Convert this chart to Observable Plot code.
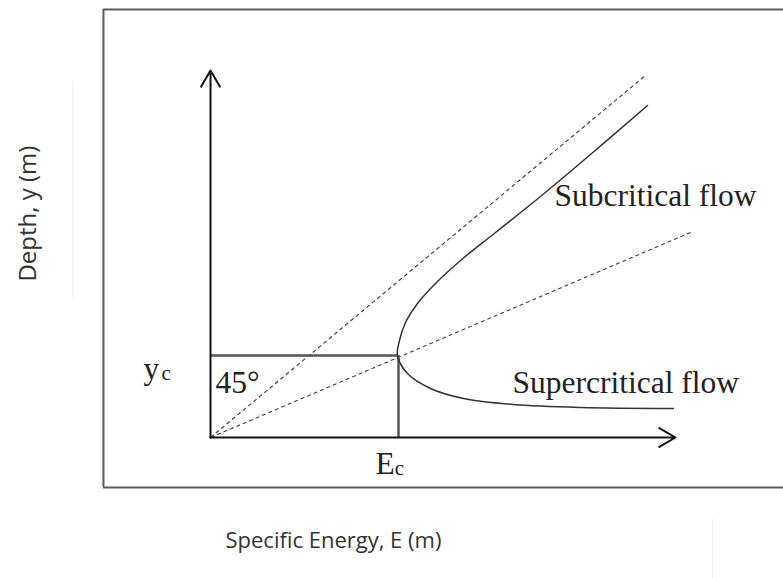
<!DOCTYPE html>
<html><head><meta charset="utf-8">
<script src="https://cdn.jsdelivr.net/npm/d3@7"></script>
<script src="https://cdn.jsdelivr.net/npm/@observablehq/plot@0.6"></script>
<style>html,body{margin:0;padding:0;background:#fff;overflow:hidden}</style>
</head><body><div id="chart"></div>
<script>
// ---- data (E and y in units where yc = 1, Ec = 1.5) ----
const upperE = [1.492, 1.508, 1.556, 1.652, 1.795, 1.995, 2.274, 2.633, 3.032, 3.487];
const upperY = [1.000, 1.183, 1.402, 1.634, 1.878, 2.159, 2.500, 2.939, 3.451, 4.049];
const lowerE = [1.492, 1.572, 1.755, 2.019, 2.418, 2.952, 3.694];
const lowerY = [1.000, 0.780, 0.598, 0.476, 0.402, 0.366, 0.354];
const Ec = 1.5, yc = 1.0;
const refLineEndE = [3.471, 3.83];
const refLineEndY = [4.415, 2.5];
const axisEndE = 3.71, axisEndY = 4.476;
const frameE = [-0.854, 4.7];
const frameY = [-0.61, 5.22];
const labelTexts = ["Subcritical flow", "Supercritical flow", "45°", "y", "E"];
const labelE = [2.745, 2.41, 0.04, -0.535, 1.317];
const labelY = [2.951, 0.671, 0.671, 0.841, -0.317];
const subTexts = ["c", "c"];
const subE = [-0.39, 1.47];
const subY = [0.78, -0.378];
const axisTitles = ["Depth, y (m)", "Specific Energy, E (m)"];
const axisTitleE = [-1.452, 0.981];
const axisTitleY = [2.73, -1.256];

// ---- build tables ----
const curve = [];
for (let i = lowerE.length - 1; i >= 1; i--) curve.push({E: lowerE[i], y: lowerY[i]});
for (let i = 0; i < upperE.length; i++) curve.push({E: upperE[i], y: upperY[i]});
const dashed = refLineEndE.map((e, i) => ({x1: 0, y1: 0, x2: e, y2: refLineEndY[i]}));
const labels = labelTexts.map((t, i) => ({t, E: labelE[i], y: labelY[i]}));
const subs = subTexts.map((t, i) => ({t, E: subE[i], y: subY[i]}));
const titles = axisTitles.map((t, i) => ({t, E: axisTitleE[i], y: axisTitleY[i]}));

const chart = Plot.plot({
  width: 783, height: 578, margin: 0,
  x: {domain: [-1.6756, 4.572], axis: null},
  y: {domain: [-1.7195, 5.329], axis: null},
  style: {background: "white", overflow: "hidden"},
  marks: [
    // faint scan artifacts
    Plot.ruleX([-1.1], {y1: 1.68, y2: 4.35, stroke: "#f0f0f0", strokeWidth: 1}),
    Plot.ruleX([4.005], {y1: -1.0, y2: -1.72, stroke: "#f0f0f0", strokeWidth: 1}),
    // frame
    Plot.ruleY([frameY[1], frameY[0]], {x1: frameE[0], x2: frameE[1], stroke: "#5a5a5a", strokeWidth: 2}),
    Plot.ruleX([frameE[0]], {y1: frameY[0], y2: frameY[1], stroke: "#5a5a5a", strokeWidth: 2}),
    // dashed reference lines
    Plot.link(dashed, {x1: "x1", y1: "y1", x2: "x2", y2: "y2", stroke: "#444", strokeWidth: 1.2, strokeDasharray: "4,3"}),
    // critical depth / energy lines
    Plot.ruleY([yc], {x1: 0, x2: Ec, stroke: "#555", strokeWidth: 2.5}),
    Plot.ruleX([Ec], {y1: 0, y2: yc, stroke: "#555", strokeWidth: 2.5}),
    // axes with arrows
    Plot.arrow([{x1: 0, y1: 0, x2: 0, y2: axisEndY}], {x1: "x1", y1: "y1", x2: "x2", y2: "y2", stroke: "#111", strokeWidth: 2, headLength: 14}),
    Plot.arrow([{x1: 0, y1: 0, x2: axisEndE, y2: 0}], {x1: "x1", y1: "y1", x2: "x2", y2: "y2", stroke: "#111", strokeWidth: 2, headLength: 14}),
    // specific energy curve
    Plot.line(curve, {x: "E", y: "y", curve: "catmull-rom", stroke: "#333", strokeWidth: 1.5}),
    // labels
    Plot.text(labels, {x: "E", y: "y", text: "t", textAnchor: "start", fontFamily: "Liberation Serif", fontSize: 31.5, fill: "#222"}),
    Plot.text(subs, {x: "E", y: "y", text: "t", textAnchor: "start", fontFamily: "Liberation Serif", fontSize: 21, fill: "#222"}),
    Plot.text(titles.slice(0, 1), {x: "E", y: "y", text: "t", rotate: -90, fontFamily: "Open Sans", fontSize: 24, fill: "#333"}),
    Plot.text(titles.slice(1), {x: "E", y: "y", text: "t", fontFamily: "Open Sans", fontSize: 22, fill: "#333"})
  ]
});
document.getElementById("chart").appendChild(chart);
</script>
</body></html>
